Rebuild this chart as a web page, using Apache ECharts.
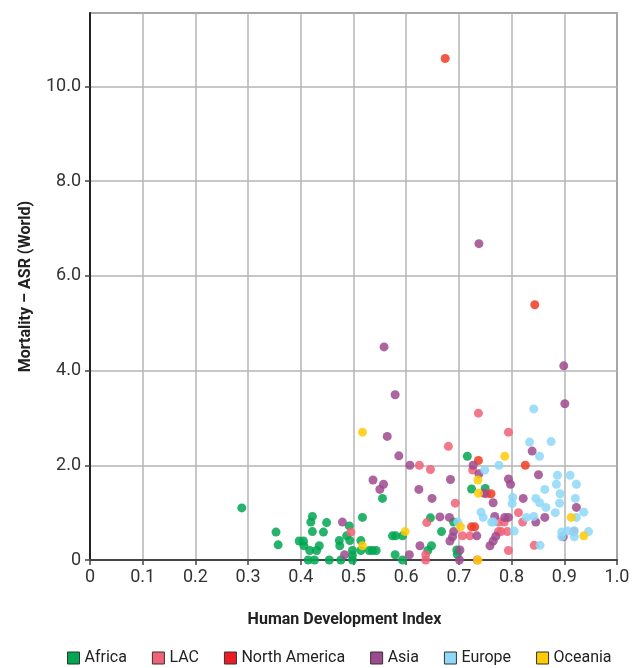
<!DOCTYPE html>
<html><head><meta charset="utf-8">
<script src="https://cdn.jsdelivr.net/npm/echarts@6/dist/echarts.min.js"></script>
<style>html,body{margin:0;padding:0;background:#fff}#c{width:636px;height:668px}</style>
</head><body><div id="c"></div>
<script>
const FONT = "Roboto, 'Liberation Sans', sans-serif";
const seriesNames = ['Africa','LAC','North America','Asia','Europe','Oceania'];
const xTicks = ['0','0.1','0.2','0.3','0.4','0.5','0.6','0.7','0.8','0.9','1.0'];
const yTicks = ['0','2.0','4.0','6.0','8.0','10.0'];

const africa = [[0.288,1.10],[0.353,0.59],[0.357,0.32],[0.397,0.40],[0.405,0.40],[0.406,0.30],[0.414,0],[0.417,0.20],[0.419,0.80],[0.422,0.92],[0.422,0.60],[0.426,0],[0.430,0.20],[0.435,0.30],[0.443,0.59],[0.449,0.79],[0.454,0],[0.473,0.41],[0.474,0.30],[0.476,0],[0.487,0.51],[0.492,0.72],[0.493,0.41],[0.498,0.20],[0.498,0.10],[0.498,0],[0.514,0.41],[0.514,0.20],[0.517,0.90],[0.530,0.20],[0.536,0.20],[0.543,0.20],[0.555,1.30],[0.574,0.51],[0.580,0.51],[0.593,0.51],[0.579,0.11],[0.593,0],[0.641,0.20],[0.648,0.30],[0.646,0.89],[0.667,0.60],[0.690,0.80],[0.696,0.21],[0.697,0.12],[0.716,2.19],[0.724,1.50],[0.750,1.51]];
const lac = [[0.495,0.59],[0.625,2.00],[0.646,1.91],[0.637,0.11],[0.637,0],[0.639,0.79],[0.680,2.40],[0.693,1.20],[0.707,0.51],[0.721,0.51],[0.726,1.90],[0.737,3.10],[0.753,1.40],[0.735,0],[0.775,0.80],[0.786,0.80],[0.775,0.60],[0.780,0.60],[0.792,0.60],[0.794,0.20],[0.794,2.70],[0.813,1.00],[0.821,0.80],[0.843,0.31],[0.918,0.60]];
const northAmerica = [[0.674,10.59],[0.844,5.39],[0.826,2.00],[0.737,2.10],[0.724,0.70],[0.730,0.70],[0.761,1.40]];
const asia = [[0.479,0.80],[0.483,0.11],[0.537,1.69],[0.550,1.49],[0.557,1.60],[0.558,4.50],[0.564,2.61],[0.579,3.49],[0.586,2.20],[0.606,0.11],[0.607,2.00],[0.624,1.49],[0.626,0.30],[0.649,1.30],[0.664,0.91],[0.682,0.90],[0.684,1.70],[0.683,0.40],[0.688,0.49],[0.690,0.60],[0.702,0.21],[0.701,0],[0.727,2.00],[0.734,0.51],[0.738,1.82],[0.738,6.68],[0.748,1.41],[0.759,0.30],[0.765,0.40],[0.765,1.21],[0.770,0.50],[0.768,0.92],[0.787,0.90],[0.794,0.90],[0.794,1.71],[0.798,1.60],[0.822,1.30],[0.839,2.30],[0.846,0.80],[0.851,1.80],[0.863,0.90],[0.898,0.49],[0.899,4.10],[0.901,3.30],[0.923,1.11]];
const europe = [[0.698,0.80],[0.742,1.01],[0.746,0.90],[0.749,1.90],[0.762,0.80],[0.766,0.80],[0.776,2.00],[0.801,1.19],[0.802,1.32],[0.805,0.61],[0.828,0.90],[0.834,2.49],[0.842,3.19],[0.842,0.92],[0.846,1.30],[0.853,2.19],[0.853,1.21],[0.854,0.31],[0.863,1.49],[0.865,1.11],[0.875,2.50],[0.883,1.00],[0.885,1.60],[0.887,1.79],[0.891,1.20],[0.892,1.40],[0.895,0.59],[0.895,0.49],[0.906,0.61],[0.911,1.79],[0.919,0.62],[0.919,0.49],[0.921,1.30],[0.923,1.60],[0.923,0.90],[0.937,1.01],[0.946,0.60]];
const oceania = [[0.517,2.70],[0.517,0.30],[0.598,0.60],[0.703,0.70],[0.736,1.69],[0.737,1.41],[0.736,0],[0.787,2.19],[0.913,0.90],[0.937,0.51]];

const allData = [africa, lac, northAmerica, asia, europe, oceania];
const pointColors = ['#00a651','#f06277','#f03c24','#9e4a8e','#8ed8f8','#ffcb05'];
const legendColors = ['#00a651','#f06277','#ed1c24','#9e4a8e','#8ed8f8','#ffcb05'];

const chart = echarts.init(document.getElementById('c'), null, {renderer:'canvas'});
chart.setOption({
  animation: false,
  backgroundColor: '#fff',
  textStyle: {fontFamily: FONT},
  grid: {left: 90, right: 19, top: 13, bottom: 108, show: true, borderColor: '#555', borderWidth: 1.5},
  legend: {
    left: 67, top: 650, width: 600, itemWidth: 12, itemHeight: 12, itemGap: 25, icon: 'rect', padding: 0,
    textStyle: {fontFamily: FONT, fontSize: 16, color: '#222'},
    data: seriesNames.map((n,i)=>({name:n, itemStyle:{color: legendColors[i], borderColor:'#333', borderWidth:1, opacity:1}}))
  },
  xAxis: {
    type: 'value', min: 0, max: 1, interval: 0.1,
    name: 'Human Development Index', nameLocation: 'middle', nameGap: 52,
    nameTextStyle: {fontFamily: FONT, fontSize: 16, fontWeight: 'bold', color: '#222', padding: [0, 18, 0, 0]},
    axisLine: {show: true, lineStyle: {color: '#444', width: 2}},
    axisTick: {show: true, length: 5, lineStyle: {color: '#444', width: 1.5}},
    axisLabel: {fontFamily: FONT, fontSize: 18, color: '#333', margin: 8,
      formatter: v => xTicks[Math.round(v*10)]},
    splitLine: {show: true, lineStyle: {color: '#b4b4b4', width: 1.5}}
  },
  yAxis: {
    type: 'value', min: 0, max: 11.55, interval: 2,
    name: 'Mortality – ASR (World)', nameLocation: 'middle', nameGap: 56,
    nameTextStyle: {fontFamily: FONT, fontSize: 16, fontWeight: 'bold', color: '#222'},
    axisLine: {show: true, lineStyle: {color: '#222', width: 2}},
    axisTick: {show: true, length: 5, lineStyle: {color: '#444', width: 1.5}},
    axisLabel: {fontFamily: FONT, fontSize: 18, color: '#333', margin: 9, showMaxLabel: false,
      formatter: v => { const i = Math.round(v/2); return (Math.abs(v - i*2) < 1e-6 && i < yTicks.length) ? yTicks[i] : ''; }},
    splitLine: {show: true, lineStyle: {color: '#b4b4b4', width: 1.5}}
  },
  series: seriesNames.map((n,i)=>({
    name: n, type: 'scatter', symbol: 'circle', symbolSize: 9,
    itemStyle: {color: pointColors[i], opacity: 0.85},
    data: allData[i]
  }))
});
</script></body></html>
